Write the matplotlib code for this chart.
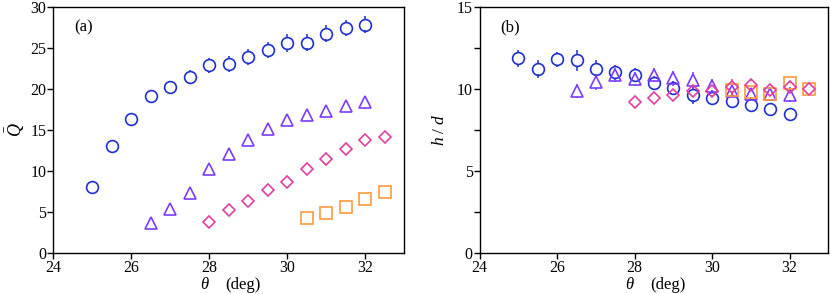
import numpy as np
import matplotlib
matplotlib.use("Agg")
import matplotlib.pyplot as plt
from matplotlib.ticker import MultipleLocator

plt.rcParams['font.family'] = ['Liberation Serif', 'DejaVu Serif']
plt.rcParams['mathtext.fontset'] = 'custom'
plt.rcParams['mathtext.rm'] = 'Liberation Serif'
plt.rcParams['mathtext.it'] = 'Liberation Serif:italic'
plt.rcParams['font.size'] = 11.5

# colours of the four series
c_blue = '#1f2fd0'
c_purple = '#7b3cff'
c_pink = '#e0409f'
c_orange = '#ff9a40'

# (a) Q-bar vs theta
th_c = [25, 25.5, 26, 26.5, 27, 27.5, 28, 28.5, 29, 29.5, 30, 30.5, 31, 31.5, 32]
q_c = [8.0, 13.1, 16.4, 19.2, 20.3, 21.5, 22.9, 23.1, 23.9, 24.8, 25.6, 25.7, 26.8, 27.5, 27.9]
q_c_err = [0.3, 0.3, 0.4, 0.5, 0.7, 0.8, 0.95, 0.95, 0.95, 0.95, 1.1, 1.05, 1.05, 1.0, 1.05]

th_t = [26.5, 27, 27.5, 28, 28.5, 29, 29.5, 30, 30.5, 31, 31.5, 32]
q_t = [3.7, 5.3, 7.3, 10.3, 12.1, 13.8, 15.1, 16.2, 16.8, 17.3, 18.0, 18.4]
q_t_err = [0.3, 0.3, 0.3, 0.4, 0.4, 0.5, 0.5, 0.6, 0.6, 0.6, 0.7, 0.8]

th_d = [28, 28.5, 29, 29.5, 30, 30.5, 31, 31.5, 32, 32.5]
q_d = [3.8, 5.2, 6.3, 7.7, 8.7, 10.2, 11.5, 12.7, 13.8, 14.2]
q_d_err = [0.2, 0.2, 0.3, 0.3, 0.3, 0.3, 0.4, 0.4, 0.4, 0.5]

th_s = [30.5, 31, 31.5, 32, 32.5]
q_s = [4.2, 4.9, 5.6, 6.6, 7.4]
q_s_err = [0.3, 0.3, 0.3, 0.4, 0.4]

# (b) h/d vs theta
h_c = [11.88, 11.26, 11.82, 11.76, 11.26, 11.02, 10.86, 10.38, 10.07, 9.67, 9.47, 9.29, 9.05, 8.77, 8.47]
h_c_err = [0.5, 0.55, 0.45, 0.65, 0.5, 0.45, 0.45, 0.45, 0.4, 0.55, 0.45, 0.45, 0.45, 0.3, 0.2]

h_t = [9.89, 10.42, 10.86, 10.62, 10.86, 10.66, 10.54, 10.2, 9.9, 9.7, 9.7, 9.67]
h_t_err = [0.45, 0.45, 0.45, 0.4, 0.45, 0.45, 0.5, 0.45, 0.4, 0.35, 0.45, 0.45]

h_d = [9.21, 9.49, 9.67, 9.89, 9.91, 10.15, 10.25, 9.95, 10.11, 10.03]
h_d_err = [0.1, 0.1, 0.2, 0.2, 0.3, 0.5, 0.3, 0.3, 0.3, 0.2]

h_s = [9.95, 9.8, 9.7, 10.38, 10.03]
h_s_err = [0.3, 0.3, 0.3, 0.4, 0.3]

fig = plt.figure(figsize=(8.3, 2.94), dpi=100)
ax1 = fig.add_axes([0.064, 0.14, 0.423, 0.835])
ax2 = fig.add_axes([0.578, 0.14, 0.420, 0.835])

ax1.set_xlim(24, 33)
ax1.set_ylim(0, 30)
ax2.set_xlim(24, 33)
ax2.set_ylim(0, 15)

def series(ax, x, y, err, color, marker, ms):
    x = np.asarray(x); y = np.asarray(y); err = np.asarray(err)
    # error bars drawn only outside the (hollow) marker
    px_per_unit = ax.transData.transform((0, 1))[1] - ax.transData.transform((0, 0))[1]
    r = (ms / 2 * fig.dpi / 72) / px_per_unit
    keep = err > r
    ax.vlines(x[keep], (y + r)[keep], (y + err)[keep], color=color, lw=1.3, alpha=0.85)
    ax.vlines(x[keep], (y - err)[keep], (y - r)[keep], color=color, lw=1.3, alpha=0.85)
    ax.plot(x, y, ls='none', marker=marker, ms=ms, mfc='none', mec=color, mew=1.2)

series(ax1, th_c, q_c, q_c_err, c_blue, 'o', 8.5)
series(ax1, th_t, q_t, q_t_err, c_purple, '^', 8.5)
series(ax1, th_d, q_d, q_d_err, c_pink, 'D', 6.5)
series(ax1, th_s, q_s, q_s_err, c_orange, 's', 8.5)

series(ax2, th_c, h_c, h_c_err, c_blue, 'o', 8.5)
series(ax2, th_t, h_t, h_t_err, c_purple, '^', 8.5)
series(ax2, th_s, h_s, h_s_err, c_orange, 's', 8.5)
series(ax2, th_d, h_d, h_d_err, c_pink, 'D', 6.5)

ax1.xaxis.set_major_locator(MultipleLocator(2))
ax1.yaxis.set_major_locator(MultipleLocator(5))
ax1.set_ylabel(r'$\bar{Q}$', labelpad=2, fontsize=13)
ax1.text(0.06, 0.95, '(a)', transform=ax1.transAxes, va='top', ha='left', fontsize=12)

ax2.xaxis.set_major_locator(MultipleLocator(2))
ax2.yaxis.set_major_locator(MultipleLocator(5))
ax2.yaxis.set_minor_locator(MultipleLocator(2.5))
ax2.set_ylabel(r'$h\ /\ d$', labelpad=6, fontsize=12.5)
ax2.text(0.06, 0.95, '(b)', transform=ax2.transAxes, va='top', ha='left', fontsize=12)

for ax in (ax1, ax2):
    ax.tick_params(direction='out', length=4, width=1, pad=1)
    ax.tick_params(which='minor', direction='out', length=4, width=1)
    # x label as two plain texts: italic theta, upright unit
    ax.text(0.43, -0.097, 'θ', transform=ax.transAxes, ha='center', va='top',
            fontsize=12, fontstyle='italic')
    ax.text(0.54, -0.097, '(deg)', transform=ax.transAxes, ha='center', va='top',
            fontsize=12)
    for sp in ax.spines.values():
        sp.set_linewidth(1.0)

fig.savefig('out.png', dpi=100)
